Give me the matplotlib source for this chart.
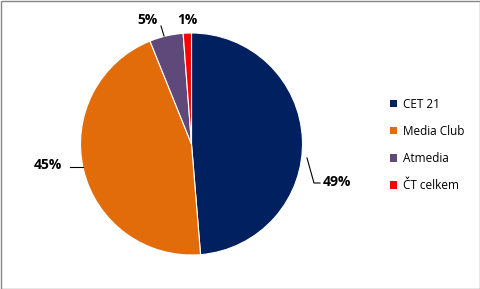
import numpy as np
import matplotlib.pyplot as plt
from matplotlib.patches import Rectangle

# data
labels = ['CET 21', 'Media Club', 'Atmedia', 'ČT celkem']
shares = [48.7, 45.2, 4.9, 1.2]
pct_text = ['49%', '45%', '5%', '1%']
colors = ['#002060', '#E36C0A', '#5F497A', '#FF0000']

W, H = 481, 289
fig = plt.figure(figsize=(W / 100, H / 100), dpi=100)
ax = fig.add_axes([0, 0, 1, 1])

cx, cy, r = 191.5, H - 144, 111
wedges, _ = ax.pie(shares, colors=colors, startangle=90, counterclock=False,
                   center=(cx, cy), radius=r, frame=True,
                   wedgeprops=dict(linewidth=0.8, edgecolor='white'))
ax.set_xlim(0, W)
ax.set_ylim(0, H)
ax.set_aspect('auto')
ax.axis('off')


def px(x, y):
    return x, H - y


# label text positions (pixel coords, y down) and leader lines
txt_pos = [(337, 182), (48, 165), (148, 20), (187, 20)]
leaders = [[(307, 158), (314, 183), (320, 183)],
           [(70, 167), (83, 167)],
           [(161, 26), (164, 36)],
           None]

for t, pos, ld in zip(pct_text, txt_pos, leaders):
    ax.text(*px(*pos), t, ha='center', va='center', fontsize=10,
            fontweight='bold', family='Open Sans')
    if ld:
        xs = [p[0] for p in ld]
        ys = [H - p[1] for p in ld]
        ax.plot(xs, ys, color='black', linewidth=0.8)

leg = ax.legend(wedges, labels, loc='upper left', bbox_to_anchor=(379 / W, 1 - 87 / H),
                frameon=False, handlelength=0.6, handleheight=0.6,
                handletextpad=0.5, labelspacing=1.2, prop={'family': 'Open Sans', 'size': 8.5})
for h in leg.legend_handles:
    h.set_edgecolor('none')

fig.patches.append(Rectangle((0.5 / W, 0.5 / H), 1 - 1.5 / W, 1 - 1.5 / H,
                             transform=fig.transFigure, fill=False,
                             edgecolor='#868686', linewidth=1))

fig.savefig('out.png', dpi=100)
